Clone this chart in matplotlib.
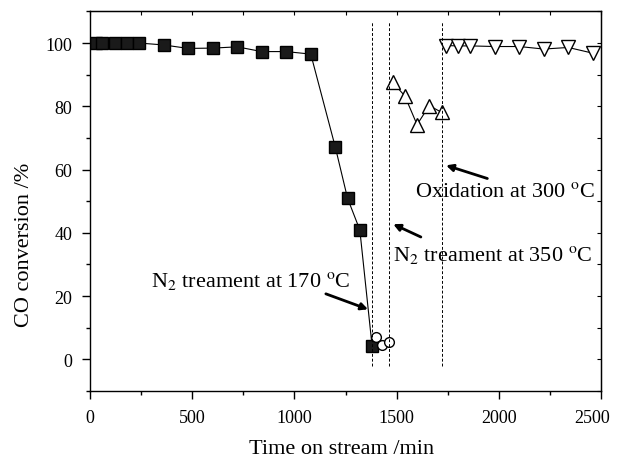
import matplotlib.pyplot as plt
import matplotlib.transforms as mtransforms
import numpy as np

plt.rcParams['font.family'] = ['Liberation Serif', 'DejaVu Serif']
plt.rcParams['mathtext.fontset'] = 'stix'

# Дані
t_fresh = [30, 60, 120, 180, 240, 360, 480, 600, 720, 840, 960, 1080,
           1200, 1260, 1320, 1380]
conv_fresh = [100, 100, 100, 100, 100, 99.4, 98.3, 98.4, 98.8, 97.3, 97.3,
              96.5, 67.1, 50.9, 40.9, 4.2]

t_n2_170 = [1400, 1430, 1465]
conv_n2_170 = [7.0, 4.5, 5.4]

t_n2_350 = [1480, 1540, 1600, 1660, 1720]
conv_n2_350 = [87.6, 83.3, 74.2, 80.2, 78.1]

t_ox = [1740, 1800, 1860, 1980, 2100, 2220, 2340, 2460]
conv_ox = [99.2, 99.1, 99.1, 98.9, 98.9, 98.1, 98.6, 96.8]

switch_times = [1380, 1462, 1720]

fig = plt.figure(figsize=(6.17, 4.6), dpi=100)
ax = fig.add_axes([0.146, 0.148, 0.828, 0.825])
for sp in ax.spines.values():
    sp.set_linewidth(1.0)

ax.plot(t_fresh, conv_fresh, 'k-', marker='s', ms=8, lw=0.8, mfc='#1a1a1a')
ax.plot(t_n2_170, conv_n2_170, 'k-', marker='o', ms=7, lw=0.8, mfc='white')
ax.plot(t_n2_350, conv_n2_350, 'k-', marker='^', ms=10, lw=0.8, mfc='white')
ax.plot(t_ox, conv_ox, 'k-', marker='v', ms=10, lw=0.8, mfc='white')

# Вертикальні лінії перемикання умов
for ts in switch_times:
    ax.plot([ts, ts], [-2, 107], color='k', ls=(0, (3, 2)), lw=0.7)

# Підписи зі стрілками
arrow = dict(arrowstyle='-|>', color='k', lw=2, mutation_scale=10)
ax.annotate('', xy=(1373, 15.5), xytext=(1141, 21), arrowprops=arrow)
ax.text(298, 23.3, r'N$_2$ treament at 170 $^{\rm o}$C', fontsize=16)
ax.annotate('', xy=(1471, 43.1), xytext=(1631, 38.3), arrowprops=arrow)
ax.text(1481, 31.5, r'N$_2$ treament at 350 $^{\rm o}$C', fontsize=16)
ax.annotate('', xy=(1729, 61.6), xytext=(1957, 56.9), arrowprops=arrow)
ax.text(1590, 51.7, r'Oxidation at 300 $^{\rm o}$C', fontsize=16)

ax.set_xlim(0, 2500)
ax.set_ylim(-10, 110)
ax.set_xticks(np.arange(0, 2501, 500))
ax.set_xticks(np.arange(0, 2501, 250), minor=True)
ax.set_yticks(np.arange(0, 101, 20))
ax.set_yticks(np.arange(-10, 111, 10), minor=True)
ax.tick_params(which='both', direction='out', labelsize=13, width=1.0)
ax.tick_params(which='major', length=6, pad=7)
ax.tick_params(which='minor', length=3)

# останній підпис трохи зсунути вліво, щоб не обрізався
last = ax.get_xticklabels()[-1]
last.set_transform(last.get_transform() +
                   mtransforms.ScaledTranslation(-6 / 72, 0, fig.dpi_scale_trans))

top = ax.secondary_xaxis('top')
top.set_xticks(np.arange(0, 2501, 250))
top.tick_params(direction='in', length=3, labeltop=False)
right = ax.secondary_yaxis('right')
right.set_yticks(np.arange(-10, 111, 10))
right.tick_params(direction='in', length=3, labelright=False)

ax.set_xlabel('Time on stream /min', fontsize=16)
ax.set_ylabel('CO conversion /%', fontsize=16)
ax.xaxis.set_label_coords(0.493, -0.128)
ax.yaxis.set_label_coords(-0.128, 0.388)
ax.yaxis.label.set_va('center')

fig.savefig('out.png', dpi=100)
